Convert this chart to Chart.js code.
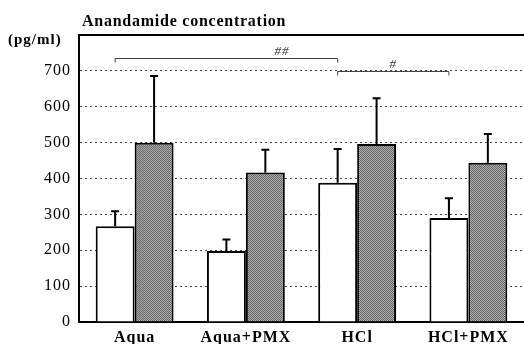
<!DOCTYPE html>
<html>
<head>
<meta charset="utf-8">
<script src="https://cdn.jsdelivr.net/npm/chart.js@4.4.1/dist/chart.umd.min.js"></script>
<style>
  html, body { margin: 0; padding: 0; background: #fff; }
</style>
</head>
<body>
<canvas id="chart" width="524" height="344"></canvas>
<script>
const groups = ["Aqua", "Aqua+PMX", "HCl", "HCl+PMX"];
const whiteMeans = [267, 198, 388, 290];
const whiteSD = [42, 32, 94, 55];
const grayMeans = [500, 417, 496, 444];
const graySD = [186, 63, 128, 80];
const yTicks = [0, 100, 200, 300, 400, 500, 600, 700];

// significance brackets, from/to = group index of the white bars
const brackets = [
  { from: 0, to: 2, value: 737, label: "##", labelAt: 0.75 },
  { from: 2, to: 3, value: 700, label: "#", labelAt: 0.5 },
];

const serif = "'Liberation Serif', 'Times New Roman', serif";

// checker pattern for the grey bars
function makePattern() {
  const c = document.createElement("canvas");
  c.width = 2;
  c.height = 2;
  const g = c.getContext("2d");
  g.fillStyle = "#acacac";
  g.fillRect(0, 0, 2, 2);
  g.fillStyle = "#666";
  g.fillRect(0, 0, 1, 1);
  g.fillRect(1, 1, 1, 1);
  return g.createPattern(c, "repeat");
}

const extras = {
  id: "extras",
  beforeDraw(chart) {
    // the scanned text is a bit wider than plain Times
    chart.ctx.letterSpacing = "1px";
  },
  afterDatasetsDraw(chart) {
    const ctx = chart.ctx;
    const y = chart.scales.y;
    const area = chart.chartArea;
    ctx.save();

    // error bars (upper only)
    [whiteSD, graySD].forEach((sd, d) => {
      const meta = chart.getDatasetMeta(d);
      meta.data.forEach((bar, i) => {
        const top = y.getPixelForValue(chart.data.datasets[d].data[i] + sd[i]);
        ctx.strokeStyle = "#000";
        ctx.lineWidth = 2;
        ctx.beginPath();
        ctx.moveTo(bar.x, bar.y);
        ctx.lineTo(bar.x, top);
        ctx.moveTo(bar.x - 4, top);
        ctx.lineTo(bar.x + 4, top);
        ctx.stroke();
      });
    });

    // top frame line
    ctx.strokeStyle = "#000";
    ctx.lineWidth = 2;
    ctx.beginPath();
    ctx.moveTo(area.left - 1, area.top);
    ctx.lineTo(area.right, area.top);
    ctx.stroke();

    // brackets
    const meta = chart.getDatasetMeta(0);
    brackets.forEach((b) => {
      const x1 = meta.data[b.from].x;
      const x2 = meta.data[b.to].x;
      const by = Math.round(y.getPixelForValue(b.value)) + 0.5;
      ctx.strokeStyle = "#444";
      ctx.lineWidth = 1;
      ctx.beginPath();
      ctx.moveTo(x1, by + 4);
      ctx.lineTo(x1, by);
      ctx.lineTo(x2, by);
      ctx.lineTo(x2, by + 4);
      ctx.stroke();
      ctx.fillStyle = "#333";
      ctx.font = "italic 13px " + serif;
      ctx.textAlign = "center";
      ctx.textBaseline = "alphabetic";
      ctx.fillText(b.label, x1 + (x2 - x1) * b.labelAt, by - 4);
    });

    // titles
    ctx.fillStyle = "#000";
    ctx.textAlign = "left";
    ctx.textBaseline = "alphabetic";
    ctx.letterSpacing = "0.75px";
    ctx.font = "bold 16px " + serif;
    ctx.fillText("Anandamide concentration", 82, 26);
    ctx.letterSpacing = "1px";
    ctx.font = "bold 15px " + serif;
    ctx.fillText("(pg/ml)", 8, 44);
    ctx.restore();
  },
};

new Chart(document.getElementById("chart"), {
  type: "bar",
  data: {
    labels: groups,
    datasets: [
      {
        data: whiteMeans,
        backgroundColor: "#fff",
        borderColor: "#000",
        borderWidth: 2,
      },
      {
        data: grayMeans,
        backgroundColor: makePattern(),
        borderColor: "#000",
        borderWidth: 2,
      },
    ],
  },
  plugins: [extras],
  options: {
    responsive: false,
    animation: false,
    devicePixelRatio: 1,
    layout: { padding: { top: 35, right: 0, left: 0, bottom: 0 } },
    datasets: { bar: { categoryPercentage: 0.7, barPercentage: 1.0 } },
    plugins: { legend: { display: false }, tooltip: { enabled: false } },
    scales: {
      x: {
        grid: { display: false },
        border: { color: "#000", width: 2 },
        ticks: { color: "#000", font: { family: serif, size: 16, weight: "bold" }, padding: -2 },
        afterFit: (s) => { s.height = 22; },
      },
      y: {
        min: 0,
        max: 800,
        afterBuildTicks: (s) => { s.ticks = yTicks.concat([800]).map((v) => ({ value: v })); },
        ticks: {
          color: "#000",
          font: { family: serif, size: 16 },
          padding: 8,
          callback: (v) => (yTicks.includes(v) ? v : ""),
        },
        grid: {
          drawTicks: false,
          color: (c) => (c.tick.value === 0 || c.tick.value === 800 ? "transparent" : "#444"),
          lineWidth: 1,
        },
        border: { color: "#000", width: 2, dash: [2, 3] },
        afterFit: (s) => { s.width = 79; },
      },
    },
  },
});
</script>
</body>
</html>
